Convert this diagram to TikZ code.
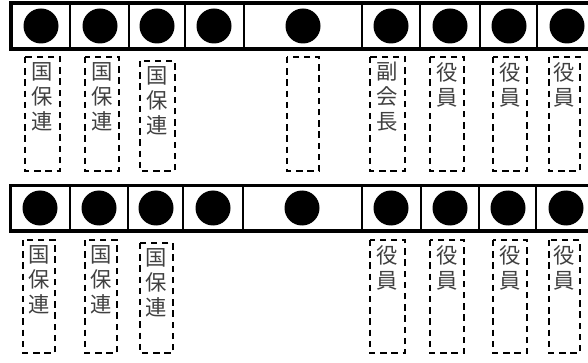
\documentclass[tikz,border=0pt]{standalone}
\usepackage{fontspec}
\newfontfamily\jpfont{Noto Sans CJK JP}
\begin{document}
\begin{tikzpicture}[x=0.75pt,y=-0.75pt,
    bar/.style={line width=2.4pt},
    divider/.style={line width=1.8pt},
    slot/.style={line width=1.7pt, dash pattern=on 4.8pt off 3.6pt},
    kanji/.style={anchor=north, inner sep=0pt, align=center, text=black!75,
      font=\jpfont\fontsize{16}{18.75}\selectfont}]
    \clip (0,0) rectangle (588,363);

    % upper row
    \draw[bar] (11,3) rectangle (600,49);
    \foreach \x in {70,129,185,244,362,420,480,537}
        \draw[divider] (\x,3) -- (\x,49);
    \foreach \x in {41,100,157,214,303,391,450,509,567}
        \fill (\x,26) circle (17.5);

    \draw[slot] (25,57) rectangle (60,171);
    \draw[slot] (85,57) rectangle (119,171);
    \draw[slot] (140,61) rectangle (175,171);
    \draw[slot] (287,57) rectangle (319,171);
    \draw[slot] (370,57) rectangle (405,171);
    \draw[slot] (430,57) rectangle (464,171);
    \draw[slot] (493,57) rectangle (527,171);
    \draw[slot] (549,57) rectangle (580,171);

    \node[kanji] (kokuA) at (42.5,62) {国\\保\\連};
    \node[kanji] (kokuB) at (102,62) {国\\保\\連};
    \node[kanji] (kokuC) at (157.5,66) {国\\保\\連};
    \node[kanji] (fuku) at (387.5,62) {副\\会\\長};
    \node[kanji] (yakuA) at (447,62) {役\\員};
    \node[kanji] (yakuB) at (510,62) {役\\員};
    \node[kanji] (yakuC) at (564.5,62) {役\\員};

    % lower row
    \draw[bar] (10.5,185.5) rectangle (600,231);
    \foreach \x in {70,128,183,243,362,421,479,536}
        \draw[divider] (\x,185.5) -- (\x,231);
    \foreach \x in {40,99,156,213,302,391,450,508,566}
        \fill (\x,208) circle (17.5);

    \draw[slot] (23,240) rectangle (55,353);
    \draw[slot] (85,240) rectangle (117,353);
    \draw[slot] (140,243) rectangle (173,353);
    \draw[slot] (370,240) rectangle (405,353);
    \draw[slot] (430,240) rectangle (464,353);
    \draw[slot] (493,240) rectangle (527,353);
    \draw[slot] (549,240) rectangle (580,353);

    \node[kanji] (kokuD) at (39,245) {国\\保\\連};
    \node[kanji] (kokuE) at (101,245) {国\\保\\連};
    \node[kanji] (kokuF) at (156.5,248) {国\\保\\連};
    \node[kanji] (yakuD) at (387.5,245) {役\\員};
    \node[kanji] (yakuE) at (447,245) {役\\員};
    \node[kanji] (yakuF) at (510,245) {役\\員};
    \node[kanji] (yakuG) at (564.5,245) {役\\員};
\end{tikzpicture}
\end{document}
